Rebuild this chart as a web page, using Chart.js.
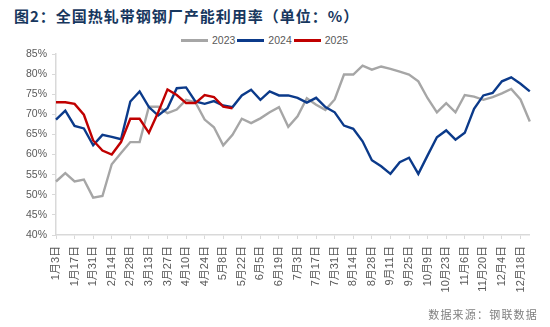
<!DOCTYPE html>
<html>
<head>
<meta charset="utf-8">
<script src="https://cdn.jsdelivr.net/npm/chart.js@4/dist/chart.umd.min.js"></script>
<style>
  html, body { margin: 0; padding: 0; background: #fff; }
  body { width: 550px; height: 327px; position: relative; overflow: hidden; }
  #title {
    position: absolute; left: 14px; top: 5px;
    font-family: "Noto Sans CJK SC", sans-serif; font-weight: 700;
    font-size: 15px; letter-spacing: 1px; color: #17375e; white-space: nowrap;
  }
  #legend {
    position: absolute; left: 181px; top: 33px; height: 14px;
    display: flex; align-items: center;
    font-family: "Liberation Sans", Arial, sans-serif; font-size: 10.5px; color: #595959;
  }
  #legend .item { display: flex; align-items: center; margin-right: 2px; }
  #legend .swatch { width: 27px; height: 3px; margin-right: 4px; }
  #source {
    position: absolute; right: 12px; top: 306px;
    font-family: "Noto Sans CJK SC", sans-serif; font-size: 11px;
    letter-spacing: 1.2px; color: #7f7f7f; white-space: nowrap;
  }
  #wrap { position: absolute; left: 0; top: 0; width: 550px; height: 327px; }
</style>
</head>
<body>
<div id="title">图2：全国热轧带钢钢厂产能利用率（单位：%）</div>
<div id="legend"></div>
<div id="wrap"><canvas id="c" width="550" height="327"></canvas></div>
<div id="source">数据来源：钢联数据</div>
<script>
// Weekly categories
const weeks = ["1月3日","1月10日","1月17日","1月24日","1月31日","2月7日","2月14日","2月21日","2月28日",
  "3月6日","3月13日","3月20日","3月27日","4月3日","4月10日","4月17日","4月24日",
  "5月1日","5月8日","5月15日","5月22日","5月29日","6月5日","6月12日","6月19日","6月26日",
  "7月3日","7月10日","7月17日","7月24日","7月31日","8月7日","8月14日","8月21日","8月28日",
  "9月4日","9月11日","9月18日","9月25日","10月2日","10月9日","10月16日","10月23日","10月30日",
  "11月6日","11月13日","11月20日","11月27日","12月4日","12月11日","12月18日","12月25日"];

// Capacity utilisation, %
const util2023 = [53.3,55.4,53.3,53.8,49.3,49.7,57.6,60.4,63.1,63.1,
  71.9,71.9,70.3,71.2,73.6,73.0,68.7,66.8,62.3,64.9,
  68.9,67.8,69.0,70.5,71.8,66.9,69.5,74.0,72.4,71.1,
  73.7,79.9,79.9,82.1,81.1,81.9,81.3,80.6,79.9,78.2,
  74.0,70.5,72.8,70.5,74.8,74.4,73.6,74.3,75.2,76.3,
  73.7,68.2];
const util2024 = [68.7,70.9,67.1,66.5,62.3,64.9,64.4,63.8,73.2,75.7,
  71.8,69.7,71.5,76.5,76.7,73.2,72.6,73.3,72.2,71.8,
  74.7,76.1,73.6,75.7,74.7,74.7,74.1,72.9,74.1,71.8,
  70.5,67.2,66.4,63.3,58.6,57.1,55.2,58.1,59.2,55.2,
  59.8,64.3,66.0,63.7,65.4,71.4,74.7,75.3,78.2,79.2,
  77.6,75.7];
const util2025 = [73.0,73.0,72.6,69.9,63.5,61.0,60.0,63.1,68.9,68.9,
  65.4,70.5,76.2,74.8,72.8,72.8,74.8,74.3,71.9,71.5];

// Y axis range and step
const yMin = 40, yMax = 85, yStep = 5;

const seriesNames = ["2023", "2024", "2025"];
const seriesColors = ["#a6a6a6", "#0b3a8a", "#c00000"];
const seriesData = [util2023, util2024, util2025];

const labelFont = '"Liberation Sans", Arial, "Noto Sans CJK SC", sans-serif';
const axisColor = "#d9d9d9";

const datasets = seriesNames.map((name, i) => ({
  label: name,
  data: seriesData[i],
  borderColor: seriesColors[i],
  backgroundColor: seriesColors[i],
  borderWidth: 2.4,
  pointRadius: 0,
  tension: 0,
  order: seriesNames.length - i
}));

// Legend row
const legendEl = document.getElementById("legend");
seriesNames.forEach((name, i) => {
  const item = document.createElement("div");
  item.className = "item";
  const sw = document.createElement("span");
  sw.className = "swatch";
  sw.style.background = seriesColors[i];
  const tx = document.createElement("span");
  tx.textContent = name;
  item.appendChild(sw); item.appendChild(tx);
  legendEl.appendChild(item);
});

new Chart(document.getElementById("c"), {
  type: "line",
  data: { labels: weeks, datasets },
  options: {
    responsive: false,
    animation: false,
    layout: { padding: { top: 54, right: 18, bottom: 0, left: 0 } },
    plugins: { legend: { display: false }, tooltip: { enabled: false } },
    scales: {
      x: {
        offset: false,
        afterFit: (s) => { s.height = 92; },
        border: { color: axisColor, width: 1.5 },
        grid: {
          drawOnChartArea: false,
          tickLength: 4,
          color: (ctx) => (ctx.index % 2 === 0 ? axisColor : "rgba(0,0,0,0)")
        },
        ticks: {
          autoSkip: false,
          maxRotation: 90,
          minRotation: 90,
          padding: 7,
          color: "#595959",
          font: { family: labelFont, size: 11 },
          callback: function (v, i) { return i % 2 === 0 ? this.getLabelForValue(v) : ""; }
        }
      },
      y: {
        min: yMin, max: yMax,
        afterFit: (s) => { s.width = 56; },
        border: { color: axisColor, width: 1.5 },
        grid: { drawOnChartArea: false, tickLength: 4, color: axisColor },
        ticks: {
          stepSize: yStep,
          padding: 5,
          color: "#595959",
          font: { family: labelFont, size: 10.5 },
          callback: (v) => v + "%"
        }
      }
    }
  }
});
</script>
</body>
</html>
